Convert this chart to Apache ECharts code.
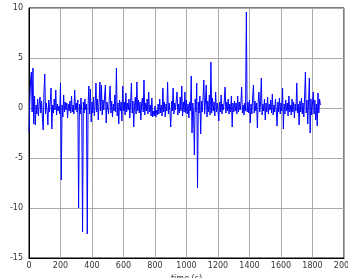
<!DOCTYPE html>
<html>
<head>
<meta charset="utf-8">
<script src="https://cdn.jsdelivr.net/npm/echarts@6/dist/echarts.min.js"></script>
<style>
  html, body { margin: 0; padding: 0; background: #fff; }
  #chart { width: 348px; height: 278px; }
</style>
</head>
<body>
<div id="chart"></div>
<script>
// sample spacing in seconds
const dt = 5;

// dr (m), one row per 100 s
const dr = [
  -2.4, 0.6, 2.7, 3.6, -0.4, 4.0, -1.6, 1.2, -1.7, 0.3, -0.6, 0.9, -0.8, 0.4, 1.1, -0.5, 0.7, -1.0, -2.2, 1.5,
  3.4, -0.6, 0.5, -0.3, -1.7, 0.8, -0.4, 0.6, 2.0, -2.1, 0.3, -0.5, 0.9, -0.2, 1.8, -0.7, 0.4, -0.3, 0.2, -0.6,
  2.5, -7.2, 0.3, -0.9, 1.3, -0.4, 0.6, -0.2, 0.5, -1.0, 0.4, -0.3, 0.7, -0.5, 1.2, -0.4, 0.3, -0.6, 1.8, -0.2,
  0.5, -0.4, 0.8, -10.0, 0.4, -0.6, 1.0, -0.3, -12.4, 0.6, -0.5, 0.9, -0.2, 0.4, -12.6, 0.3, 2.2, -0.6, 1.9, -1.4,
  0.6, -0.5, 1.1, -0.8, 0.3, 2.5, -0.4, 0.9, -1.2, 0.5, 2.6, -0.3, 2.3, -0.7, 0.8, -0.2, 1.2, 2.3, -1.5, 0.6,
  0.4, -0.6, 1.0, 2.2, -0.5, 0.7, -0.9, 0.4, -0.3, 1.3, -0.4, 4.0, -0.8, 0.5, -1.6, 0.8, -0.3, 0.6, -1.3, 2.2,
  -0.3, 0.6, -0.7, 1.5, -0.4, 0.5, -0.2, 0.9, -1.0, 0.4, 2.5, -0.5, 0.7, -1.9, 0.3, 1.1, -0.6, 2.6, -0.3, 0.8,
  -0.5, 0.6, -1.2, 0.4, 1.0, -0.4, 2.8, -0.7, 0.5, -0.3, 0.9, -0.6, 1.6, -0.4, 0.3, -0.8, 1.0, -0.9, -0.3, -0.8,
  0.2, -0.9, -0.2, -0.7, 0.4, -0.6, 0.9, -0.5, 0.3, -0.8, 2.0, -0.4, 0.6, -0.9, 0.4, -0.3, 2.6, -0.6, 0.5, -0.4,
  -1.9, 0.7, -0.3, 2.0, -0.6, 0.5, -0.2, 0.8, 1.6, -0.7, 0.4, -0.5, 1.1, -0.3, 2.2, -0.8, 0.6, -0.4, 1.6, -0.5,
  0.8, -0.6, 0.4, -1.0, 0.6, -0.3, 3.2, -2.5, 0.5, -0.7, -4.7, 0.9, -0.4, 2.5, -8.0, 0.6, -0.5, 1.2, -2.6, 0.7,
  -0.4, 1.0, 2.8, -0.6, 0.5, 2.3, -0.9, 0.7, -0.4, 1.3, -0.7, 4.6, -0.5, 1.0, -0.3, 0.6, -0.8, 1.6, -0.4, 0.5,
  -0.3, -1.3, 0.6, -0.4, 1.3, -0.6, 0.4, -0.2, 0.8, 2.1, -0.5, 0.6, -0.3, 0.9, -0.6, 0.4, -0.4, 1.2, -1.9, 0.5,
  -0.4, 0.7, -0.3, 0.5, -0.6, 1.2, -0.4, 0.6, -0.2, 0.4, 2.1, -0.5, 0.3, -0.7, 0.5, -0.3, 9.6, -0.4, 0.6, -0.5,
  0.8, -1.5, 0.4, -0.6, 1.0, 2.3, -0.5, 0.7, -0.3, 0.5, -2.0, 0.6, 1.6, -0.4, 0.5, 3.0, -0.7, 0.4, -0.3, 0.9,
  -1.2, 0.5, -0.4, 1.1, -0.6, 0.4, -0.2, 0.8, -0.5, 1.4, -0.7, 0.3, -0.4, 0.9, -0.3, -1.8, 0.6, -0.4, 1.0, -0.6,
  0.5, -0.3, 2.0, -2.1, 0.4, -0.6, 0.8, -0.3, 0.5, -0.8, 1.2, -0.4, 0.3, -0.7, 0.9, -0.4, 0.6, -1.0, 0.4, -0.3,
  2.5, -0.5, 0.4, -1.7, 0.7, -0.4, 1.0, -0.6, 0.5, -0.9, 1.2, 3.6, -0.5, 0.8, -1.6, 0.6, 3.0, -2.5, 0.9, -0.7,
  0.5, 1.6, -0.6, 0.8, -1.2, 0.4, -1.8, 1.5, -0.5, 0.9, 0.3
];

const chart = echarts.init(document.getElementById('chart'));

const labelFont = { fontFamily: 'DejaVu Sans', fontSize: 8, color: '#333' };
// dashed grid lines vanished at this layout, so use a plain grey line
const gridLine = { color: '#aaa', type: 'solid', width: 1 };

chart.setOption({
  animation: false,
  grid: {
    left: 29, right: 4, top: 8, bottom: 20,
    outerBoundsMode: 'auto',
    outerBounds: { left: -100, top: -100, right: -100, bottom: -100 },
    show: true, borderColor: '#000', borderWidth: 1
  },
  xAxis: {
    type: 'value',
    min: 0, max: 2000, interval: 200,
    name: 'time (s)',
    nameLocation: 'middle',
    nameGap: 17,
    nameTextStyle: labelFont,
    axisLine: { onZero: false, lineStyle: { color: '#000' } },
    axisTick: { show: false },
    axisLabel: Object.assign({ margin: 4, formatter: v => String(v) }, labelFont),
    splitLine: { show: true, lineStyle: gridLine }
  },
  yAxis: {
    type: 'value',
    min: -15, max: 10, interval: 5,
    name: 'dr (m)',
    nameLocation: 'middle',
    nameGap: 21,
    nameTextStyle: labelFont,
    axisLine: { show: true, lineStyle: { color: '#000' } },
    axisTick: { show: false },
    axisLabel: Object.assign({ margin: 6 }, labelFont),
    splitLine: { show: true, lineStyle: gridLine }
  },
  series: [{
    type: 'line',
    showSymbol: false,
    data: dr.map((v, i) => [i * dt, v]),
    lineStyle: { color: '#0000ff', width: 1 },
    itemStyle: { color: '#0000ff' }
  }]
});
</script>
</body>
</html>
